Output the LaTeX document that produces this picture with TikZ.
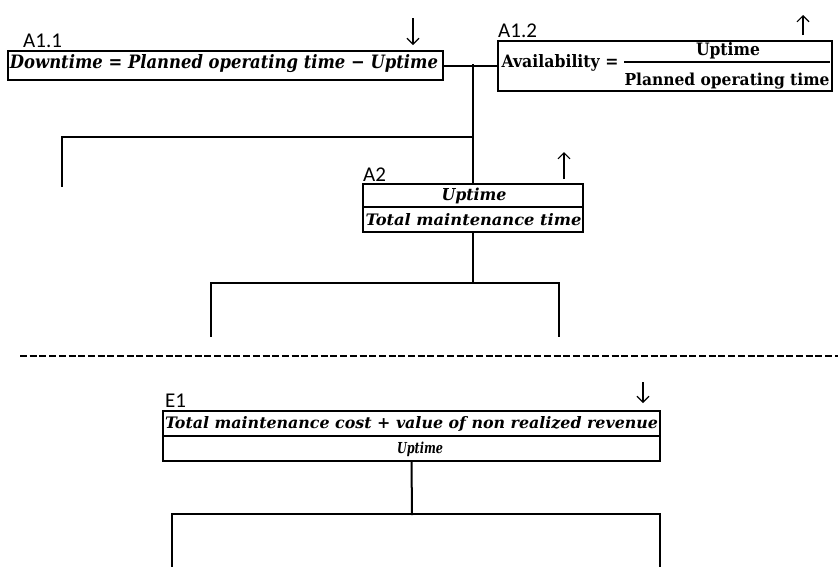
\documentclass[tikz,border=0pt]{standalone}
\usepackage{fontspec}
\usepackage{graphicx}
\newfontfamily\lblfont{Carlito}
\newfontfamily\eqfont{DejaVu Serif}
\usetikzlibrary{arrows.meta}
% scale a text to a given width and height above its baseline
\newcommand\fitbox[3]{\resizebox{#1}{#2}{#3}}

\begin{document}
\begin{tikzpicture}[x=1pt,y=-1pt,
  box/.style={draw, line width=2pt, inner sep=0pt, rectangle},
  link/.style={line width=2pt, line join=miter, line cap=rect},
  rule/.style={line width=1.3pt},
  sepline/.style={line width=2pt, dash pattern=on 7pt off 2.7pt},
  lbl/.style={font=\lblfont\fontsize{21}{23}\selectfont, anchor=base west, inner sep=0pt},
  trend/.style={line width=1.1pt, -{Straight Barb[length=6pt,width=12pt]}},
  eqit/.style={inner sep=0pt, anchor=base, font=\eqfont\bfseries\itshape},
  equp/.style={inner sep=0pt, anchor=base, font=\eqfont\bfseries},
]
\useasboundingbox (0,0) rectangle (838,566);

% ---------- A1.1 : downtime ----------
\node[box, minimum width=435pt, minimum height=29pt] (a11) at (225.5,65.5) {};
\node[eqit] (a11t) at (224,68.5) {\fitbox{428pt}{14pt}{Downtime = Planned operating time − Uptime}};
\node[lbl] (a11l) at (23,47.5) {A1.1};
\coordinate (a11s) at (413,18);
\coordinate (a11e) at (413,45);
\draw[trend] (a11s) -- (a11e);

% ---------- A1.2 : availability ----------
\node[box, minimum width=334pt, minimum height=50pt] (a12) at (665,66) {};
\node[equp] (avl) at (560,67.5) {\fitbox{117pt}{13pt}{Availability =}};
\coordinate (barL) at (624,62);
\coordinate (barR) at (830,62);
\draw[rule] (barL) -- (barR);
\node[equp] (avn) at (728,55.5) {\fitbox{64pt}{13pt}{Uptime}};
\node[equp] (avd) at (727,85) {\fitbox{205pt}{12.5pt}{Planned operating time}};
\node[lbl] (a12l) at (498,37.5) {A1.2};
\coordinate (a12s) at (803,35);
\coordinate (a12e) at (803,15);
\draw[trend] (a12s) -- (a12e);

% ---------- A2 : uptime per maintenance time ----------
\node[box, minimum width=220pt, minimum height=48pt] (a2) at (473,208) {};
\coordinate (a2dl) at (363,207);
\coordinate (a2dr) at (583,207);
\draw[rule] (a2dl) -- (a2dr);
\node[eqit] (a2n) at (474,200.5) {\fitbox{65pt}{12.5pt}{Uptime}};
\node[eqit] (a2d) at (473.5,225.5) {\fitbox{216pt}{12pt}{Total maintenance time}};
\node[lbl] (a2l) at (363,181.5) {A2};
\coordinate (a2s) at (564,179);
\coordinate (a2e) at (564,152);
\draw[trend] (a2s) -- (a2e);

% ---------- tree links, upper part ----------
\coordinate (j1) at (473,65);
\coordinate (b1) at (473,137);
\coordinate (b1l) at (62,137);
\coordinate (b1e) at (62,186);
\draw[link] (a11.east) -- (a11.east -| a12.west);
\draw[link] (j1) -- (a2.north);
\draw[link] (b1) -- (b1l) -- (b1e);

\coordinate (b2) at (473,283);
\coordinate (b2l) at (211,283);
\coordinate (b2r) at (559,283);
\coordinate (b2le) at (211,336);
\coordinate (b2re) at (559,336);
\draw[link] (a2.south) -- (b2);
\draw[link] (b2le) -- (b2l) -- (b2r) -- (b2re);

% ---------- separator ----------
\coordinate (sepL) at (20,356);
\coordinate (sepR) at (838,356);
\draw[sepline] (sepL) -- (sepR);

% ---------- E1 : cost per uptime ----------
\node[box, minimum width=497pt, minimum height=50pt] (e1) at (411.5,436) {};
\coordinate (e1dl) at (163,436);
\coordinate (e1dr) at (660,436);
\draw[rule] (e1dl) -- (e1dr);
\node[eqit] (e1n) at (411.5,428.5) {\fitbox{493pt}{12pt}{Total maintenance cost + value of non realized revenue}};
\node[eqit] (e1d) at (420,453.5) {\fitbox{46pt}{11.5pt}{Uptime}};
\node[lbl] (e1l) at (165,407.5) {E1};
\coordinate (e1s) at (643,382);
\coordinate (e1e) at (643,403);
\draw[trend] (e1s) -- (e1e);

\coordinate (b3) at (412,514);
\coordinate (b3l) at (172,514);
\coordinate (b3r) at (660,514);
\coordinate (b3le) at (172,566);
\coordinate (b3re) at (660,566);
\draw[link] (e1.south) -- (b3);
\draw[link] (b3le) -- (b3l) -- (b3r) -- (b3re);
\end{tikzpicture}
\end{document}
